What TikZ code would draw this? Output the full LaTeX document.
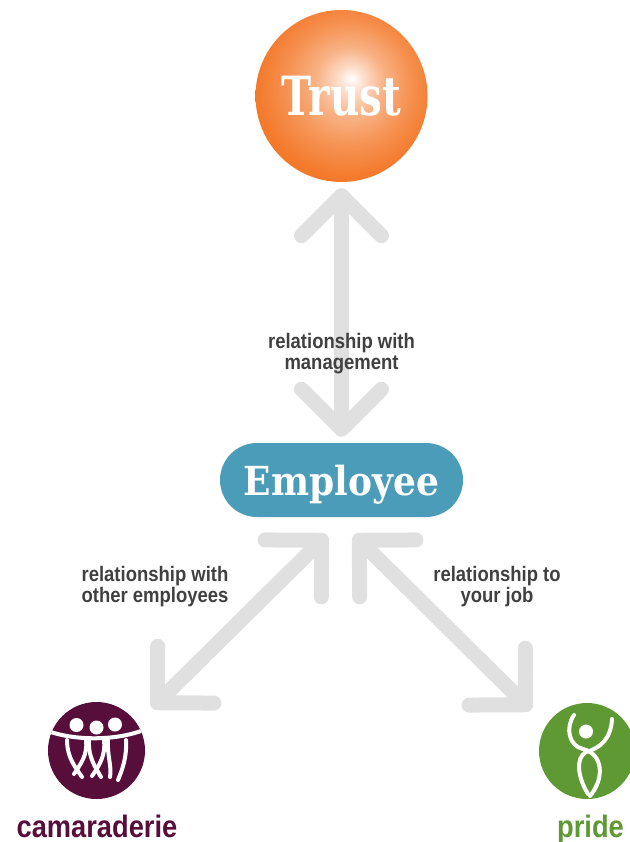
\documentclass[tikz,border=0pt]{standalone}
\usepackage{fontspec}
\usetikzlibrary{arrows.meta}
\newfontfamily\slabfont[FakeStretch=0.9]{DejaVu Serif}
\newfontfamily\trustfont[FakeStretch=0.75]{DejaVu Serif}
\newfontfamily\condfont[FakeStretch=0.88]{Liberation Sans}
\definecolor{trustorange}{RGB}{243,115,33}
\definecolor{employeeblue}{RGB}{74,156,184}
\definecolor{camred}{RGB}{88,14,58}
\definecolor{pridegreen}{RGB}{94,153,51}
\definecolor{labelgray}{RGB}{64,64,64}
\definecolor{arrowgray}{RGB}{224,224,224}
\pgfdeclareradialshading{trustglow}{\pgfpoint{3bp}{5bp}}{color(0bp)=(white); color(4bp)=(white!75!trustorange); color(10bp)=(white!45!trustorange); color(18bp)=(white!22!trustorange); color(26bp)=(white!5!trustorange); color(32bp)=(trustorange); color(50bp)=(trustorange)}
\tikzset{
  bigarrow/.style={draw=arrowgray, line width=15pt, line cap=round,
    >={Straight Barb[length=40pt,width=80pt,round]}, <->},
  reltext/.style={text=labelgray, align=center, font=\condfont\bfseries\fontsize{21}{21}\selectfont},
  icontext/.style={font=\condfont\bfseries\fontsize{31}{31}\selectfont},
  iconline/.style={draw=white, line width=4pt, line cap=round}
}
\begin{document}
\begin{tikzpicture}[x=1pt,y=-1pt]
        \useasboundingbox (0,0) rectangle (629,842);

        % Nodes for trust and employee
        \node[circle, minimum size=172pt, shading=trustglow, text=white] (trust) at (341.5,96) {\trustfont\bfseries\fontsize{54}{54}\selectfont Trust};
        \node[rectangle, rounded corners=37pt, minimum width=243pt, minimum height=74pt, fill=employeeblue, text=white, text depth=0pt] (employee) at (341.5,480) {\slabfont\bfseries\fontsize{40}{40}\selectfont Employee};

        % Nodes for the two icons
        \node[circle, minimum size=97pt, fill=camred] (camaraderie) at (96.5,750.5) {};
        \node[circle, minimum size=96pt, fill=pridegreen] (pride) at (587,751) {};
        \node[icontext, text=camred, anchor=base] (camlabel) at (97,837) {camaraderie};
        \node[icontext, text=pridegreen, anchor=base] (pridelabel) at (590.5,837) {pride};

        % Free ends of the lower arrows
        \coordinate (camtop) at (327,535);
        \coordinate (camend) at (152,708);
        \coordinate (pridetop) at (354,535);
        \coordinate (prideend) at (531,710);

        \draw[bigarrow, shorten <=6pt, shorten >=6pt] (trust) -- (employee);
        \draw[bigarrow] (camtop) -- (camend);
        \draw[bigarrow] (pridetop) -- (prideend);

        \node[reltext, anchor=base] (mgmt) at (341.5,369) {relationship with\\management};
        \node[reltext, anchor=base] (others) at (155,602) {relationship with\\other employees};
        \node[reltext, anchor=base] (job) at (497,602) {relationship to\\your job};

        % Three people
        \begin{scope}
          \clip (camaraderie.center) circle[radius=48.5pt];
          \fill[white] (76.5,725) circle[radius=7pt] (96.5,727.5) circle[radius=7pt] (115,724.5) circle[radius=7pt];
          \draw[iconline] (48,731) .. controls (75,741) and (118,741) .. (146,729);
          \draw[iconline] (67,740) .. controls (67,758) and (76,768) .. (82,777);
          \draw[iconline] (86,740) .. controls (88,755) and (80,765) .. (74,774);
          \draw[iconline] (89,740) .. controls (88,758) and (96,768) .. (101,777);
          \draw[iconline] (104,740) .. controls (106,755) and (99,766) .. (92,776);
          \draw[iconline] (108,740) .. controls (107,756) and (112,766) .. (110,777);
          \draw[iconline] (126,740) .. controls (127,758) and (122,770) .. (118,780);
        \end{scope}

        % Cheering figure
        \fill[white] (586,731.5) circle[radius=7pt];
        \draw[iconline] (574,715) .. controls (565,728) and (569,746) .. (583,749) .. controls (603,754) and (605,778) .. (590,796);
        \draw[iconline] (612,719) .. controls (611,738) and (601,748) .. (586,752) .. controls (575,758) and (578,778) .. (588,794);
\end{tikzpicture}
\end{document}
